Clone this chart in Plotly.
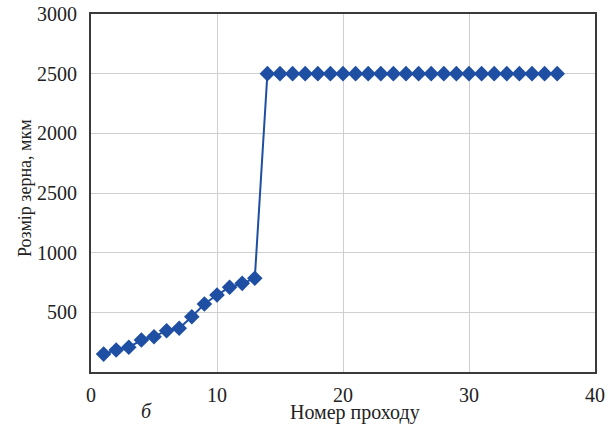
import plotly.graph_objects as go

passes = list(range(1, 38))
grain_size = [150, 184, 207, 268, 296, 346, 366, 463, 570, 645, 710, 743, 785] + [2500] * 24

y_tickvals = [0, 500, 1000, 1500, 2000, 2500, 3000]
y_ticktext = ["", "500", "1000", "2500", "2000", "2500", "3000"]
x_tickvals = [0, 10, 20, 30, 40]
x_ticktext = ["0", "10", "20", "30", "40"]

FONT = "Liberation Serif"
BLUE = "#1f4fa3"

fig = go.Figure()
fig.add_trace(go.Scatter(
    x=passes, y=grain_size, mode="lines+markers",
    line=dict(color=BLUE, width=2),
    marker=dict(symbol="diamond", size=12, color=BLUE),
    showlegend=False,
))

axis_common = dict(
    showline=True, linecolor="#3a3a3a", linewidth=2, mirror=True,
    showgrid=True, gridcolor="#cfcfcf", gridwidth=1,
    ticks="", zeroline=False, automargin=False,
    tickfont=dict(family=FONT, size=20, color="#222"),
)
fig.update_xaxes(range=[0, 40], tickvals=x_tickvals, ticktext=x_ticktext,
                 ticklabelstandoff=4, **axis_common)
fig.update_yaxes(range=[0, 3000], tickvals=y_tickvals, ticktext=y_ticktext,
                 ticklabelstandoff=8, **axis_common)

W, H = 616, 429
L, R, T, B = 91, 21, 14, 57
pw, ph = W - L - R, H - T - B

def px_x(x):
    return (x - L) / pw

def px_y(y):
    return (H - B - y) / ph

fig.add_annotation(text="Розмір зерна, мкм", xref="paper", yref="paper",
                   x=px_x(25), y=px_y(188), textangle=-90, showarrow=False,
                   xanchor="center", yanchor="middle",
                   font=dict(family=FONT, size=18, color="#222"))
fig.add_annotation(text="Номер проходу", xref="paper", yref="paper",
                   x=px_x(355), y=px_y(413), showarrow=False,
                   xanchor="center", yanchor="middle",
                   font=dict(family=FONT, size=20, color="#222"))
fig.add_annotation(text="<i>б</i>", xref="paper", yref="paper",
                   x=px_x(146), y=px_y(411), showarrow=False,
                   xanchor="center", yanchor="middle",
                   font=dict(family=FONT, size=20, color="#222"))

fig.update_layout(
    width=W, height=H,
    margin=dict(l=L, r=R, t=T, b=B, autoexpand=False),
    paper_bgcolor="white", plot_bgcolor="white",
)

fig.write_html("out.html", config={"displayModeBar": False},
               post_script="document.body.style.margin='0';")
